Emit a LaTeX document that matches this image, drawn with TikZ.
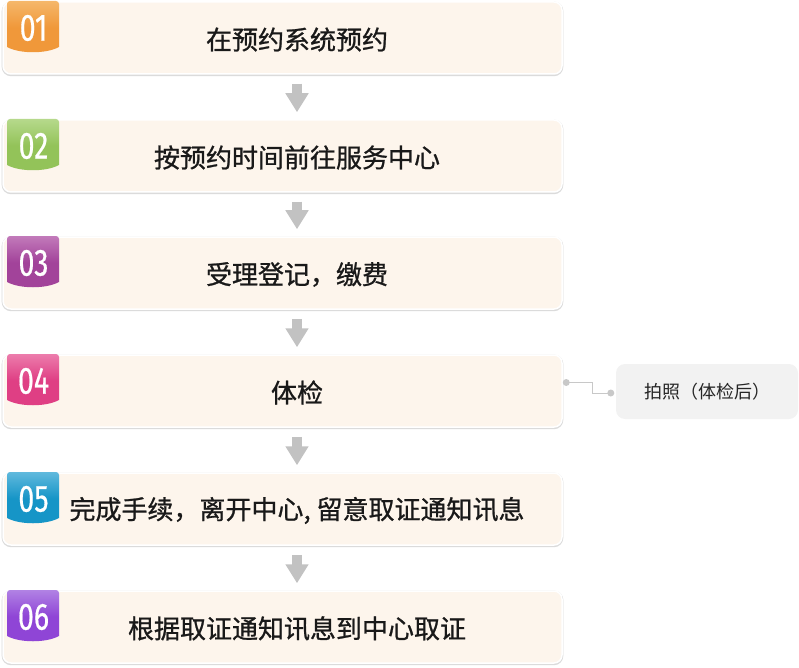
\documentclass[tikz,border=0pt]{standalone}
\usepackage{fontspec}
\setmainfont{Fira Sans}
\newfontfamily\cjk[FakeBold=0.9]{Noto Sans CJK SC}
\newfontfamily\cjkside{Noto Sans CJK SC}
\newfontfamily\numfont[FakeBold=0.6]{Fira Sans}
\usetikzlibrary{arrows.meta,calc}
\definecolor{boxfill}{HTML}{FDF5EC}
\definecolor{arrowgray}{HTML}{C2C2C2}
\definecolor{sidefill}{HTML}{F2F2F2}
\definecolor{linkgray}{HTML}{C8C8C8}
\definecolor{cA}{HTML}{F0983A}\definecolor{lA}{HTML}{F5B76A}
\definecolor{cB}{HTML}{93C359}\definecolor{lB}{HTML}{B6D98C}
\definecolor{cC}{HTML}{A2439A}\definecolor{lC}{HTML}{C27ABA}
\definecolor{cD}{HTML}{DF3F84}\definecolor{lD}{HTML}{EC7CAC}
\definecolor{cE}{HTML}{1695C7}\definecolor{lE}{HTML}{60B9DD}
\definecolor{cF}{HTML}{8F45D6}\definecolor{lF}{HTML}{B182E4}
\tikzset{
  stepbox/.style={rectangle, rounded corners=8pt, fill=boxfill, draw=white, line width=1.5pt,
    minimum width=559pt, minimum height=72pt, inner sep=0pt,
    preaction={draw=black!14, line width=2.6pt, transform canvas={yshift=-0.9pt}}},
  steptext/.style={font=\cjk\fontsize{26}{30}\selectfont, text=black!90, inner sep=0pt},
  numtext/.style={font=\numfont\fontsize{38}{40}\selectfont, text=white, inner sep=0pt, xscale=0.75},
  flowarrow/.style={draw=arrowgray, line width=10pt, -{Triangle[width=22pt,length=19pt]}},
  sidebox/.style={rectangle, rounded corners=9pt, fill=sidefill, minimum width=182pt,
    minimum height=55pt, inner sep=0pt, font=\cjkside\fontsize{18}{22}\selectfont, text=black!85},
  linkline/.style={draw=linkgray, line width=1pt},
  linkdot/.style={fill=linkgray}
}
\begin{document}
\begin{tikzpicture}[x=1pt,y=-1pt]
\useasboundingbox (0,0) rectangle (799,668);
\foreach \i/\T/\c/\l/\txt in {
  1/2/cA/lA/{在预约系统预约},
  2/120/cB/lB/{按预约时间前往服务中心},
  3/237/cC/lC/{受理登记，缴费},
  4/355/cD/lD/{体检},
  5/473/cE/lE/{完成手续，离开中心, 留意取证通知讯息},
  6/591/cF/lF/{根据取证通知讯息到中心取证}}{
  \node[stepbox] (b\i) at (282.5,\T+36) {};
  \shade[top color=\l, bottom color=\c, middle color=\c, rounded corners=3pt]
    (7,\T+45) -- (7,\T-1) -- (59,\T-1) [sharp corners] -- (59,\T+45)
    .. controls (46,\T+52) and (20,\T+52) .. (7,\T+45) -- cycle;
  \node[numtext] (n\i) at (33.5,\T+26) {0\i};
  \node[steptext] (t\i) at (297,\T+37.5) {\txt};
}
\foreach \i/\j in {1/2,2/3,3/4,4/5,5/6}{
  \draw[flowarrow, shorten <=9pt, shorten >=7pt] (t\i |- b\i.south) -- (t\i |- b\j.north);
}
\node[sidebox] (side) at (707,391.5) {拍照（体检后）};
\coordinate (c1) at ($(b4.east)+(3.5,-8.5)$);
\coordinate (c2) at ($(side.west)+(-5,1.5)$);
\coordinate (bend) at (592,0);
\draw[linkline] (c1) -- (c1 -| bend) |- (c2);
\fill[linkdot] (c1) circle (3.5pt);
\fill[linkdot] (c2) circle (3.5pt);
\end{tikzpicture}
\end{document}
